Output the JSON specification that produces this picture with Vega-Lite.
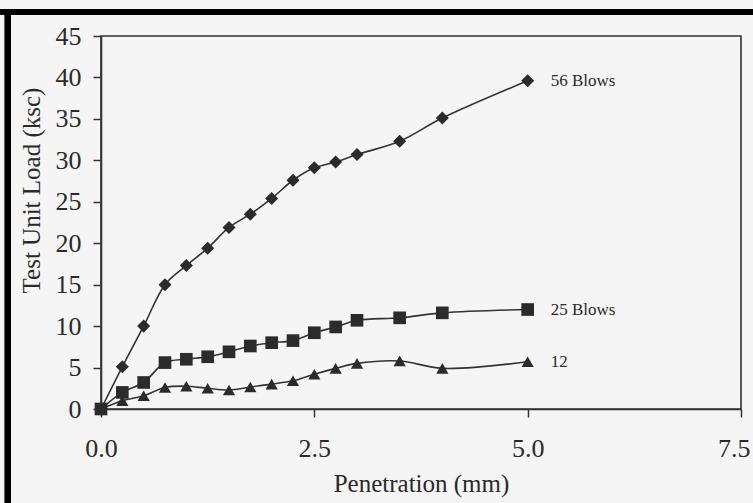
{
  "$schema": "https://vega.github.io/schema/vega-lite/v6.json",
  "width": 640,
  "height": 373,
  "autosize": {"type": "none"},
  "padding": {"left": 101, "top": 36, "right": 12, "bottom": 94},
  "background": "#f4f5f4",
  "config": {
    "font": "Liberation Serif",
    "view": {"stroke": "#333333", "strokeWidth": 1.6},
    "axis": {
      "grid": false,
      "domainColor": "#333333",
      "domainWidth": 1.6,
      "tickColor": "#333333",
      "tickWidth": 1.5,
      "tickSize": 8,
      "labelFont": "Liberation Serif",
      "labelFontSize": 26,
      "labelColor": "#2a2a2a",
      "titleFont": "Liberation Serif",
      "titleFontSize": 25,
      "titleFontWeight": "normal",
      "titleColor": "#2a2a2a"
    }
  },
  "data": {
    "values": [
      {"series": "56 Blows", "pen": 0, "load": 0},
      {"series": "56 Blows", "pen": 0.25, "load": 5.1},
      {"series": "56 Blows", "pen": 0.5, "load": 10.0},
      {"series": "56 Blows", "pen": 0.75, "load": 15.0},
      {"series": "56 Blows", "pen": 1.0, "load": 17.3},
      {"series": "56 Blows", "pen": 1.25, "load": 19.4},
      {"series": "56 Blows", "pen": 1.5, "load": 21.9},
      {"series": "56 Blows", "pen": 1.75, "load": 23.5},
      {"series": "56 Blows", "pen": 2.0, "load": 25.4},
      {"series": "56 Blows", "pen": 2.25, "load": 27.6},
      {"series": "56 Blows", "pen": 2.5, "load": 29.1},
      {"series": "56 Blows", "pen": 2.75, "load": 29.8},
      {"series": "56 Blows", "pen": 3.0, "load": 30.7},
      {"series": "56 Blows", "pen": 3.5, "load": 32.3},
      {"series": "56 Blows", "pen": 4.0, "load": 35.1},
      {"series": "56 Blows", "pen": 5.0, "load": 39.6},
      {"series": "25 Blows", "pen": 0, "load": 0},
      {"series": "25 Blows", "pen": 0.25, "load": 2.0},
      {"series": "25 Blows", "pen": 0.5, "load": 3.2},
      {"series": "25 Blows", "pen": 0.75, "load": 5.6},
      {"series": "25 Blows", "pen": 1.0, "load": 6.0},
      {"series": "25 Blows", "pen": 1.25, "load": 6.3},
      {"series": "25 Blows", "pen": 1.5, "load": 6.9},
      {"series": "25 Blows", "pen": 1.75, "load": 7.6},
      {"series": "25 Blows", "pen": 2.0, "load": 8.0},
      {"series": "25 Blows", "pen": 2.25, "load": 8.25},
      {"series": "25 Blows", "pen": 2.5, "load": 9.2},
      {"series": "25 Blows", "pen": 2.75, "load": 9.9},
      {"series": "25 Blows", "pen": 3.0, "load": 10.7},
      {"series": "25 Blows", "pen": 3.5, "load": 11.0},
      {"series": "25 Blows", "pen": 4.0, "load": 11.6},
      {"series": "25 Blows", "pen": 5.0, "load": 12.0},
      {"series": "12", "pen": 0, "load": 0},
      {"series": "12", "pen": 0.25, "load": 1.0},
      {"series": "12", "pen": 0.5, "load": 1.6},
      {"series": "12", "pen": 0.75, "load": 2.6},
      {"series": "12", "pen": 1.0, "load": 2.75},
      {"series": "12", "pen": 1.25, "load": 2.5},
      {"series": "12", "pen": 1.5, "load": 2.3},
      {"series": "12", "pen": 1.75, "load": 2.65},
      {"series": "12", "pen": 2.0, "load": 3.0},
      {"series": "12", "pen": 2.25, "load": 3.4},
      {"series": "12", "pen": 2.5, "load": 4.2},
      {"series": "12", "pen": 2.75, "load": 4.9},
      {"series": "12", "pen": 3.0, "load": 5.5},
      {"series": "12", "pen": 3.5, "load": 5.8},
      {"series": "12", "pen": 4.0, "load": 4.9},
      {"series": "12", "pen": 5.0, "load": 5.7}
    ]
  },
  "encoding": {
    "x": {
      "field": "pen",
      "type": "quantitative",
      "title": "Penetration (mm)",
      "scale": {"domain": [0, 7.5], "nice": false, "zero": false},
      "axis": {
        "values": [0, 2.5, 5, 7.5],
        "format": ".1f",
        "labelFlush": false,
        "labelOverlap": false,
        "labelBound": false,
        "labelAlign": {"condition": {"test": "datum.value == 7.5", "value": "right"}, "value": "center"},
        "labelOffset": {"condition": {"test": "datum.value == 7.5", "value": 9}, "value": 0},
        "labelPadding": 18,
        "titlePadding": 10
      }
    },
    "y": {
      "field": "load",
      "type": "quantitative",
      "title": "Test Unit Load (ksc)",
      "scale": {"domain": [0, 45], "nice": false, "zero": false},
      "axis": {"values": [0, 5, 10, 15, 20, 25, 30, 35, 40, 45], "labelFlush": false, "labelPadding": 12, "titlePadding": 11, "titleY": 154}
    }
  },
  "layer": [
    {
      "mark": {"type": "line", "interpolate": "catmull-rom", "color": "#333333", "strokeWidth": 1.6},
      "encoding": {"detail": {"field": "series"}}
    },
    {
      "mark": {"type": "point", "filled": true, "color": "#2b2b2b", "opacity": 1},
      "encoding": {
        "shape": {
          "field": "series",
          "scale": {"domain": ["56 Blows", "25 Blows", "12"], "range": ["diamond", "square", "triangle-up"]},
          "legend": null
        },
        "size": {
          "field": "series",
          "scale": {"domain": ["56 Blows", "25 Blows", "12"], "range": [170, 150, 160]},
          "legend": null
        }
      }
    },
    {
      "transform": [{"filter": "datum.pen == 5"}],
      "mark": {"type": "text", "align": "left", "baseline": "middle", "dx": 23, "fontSize": 17, "font": "Liberation Serif", "color": "#2a2a2a"},
      "encoding": {"text": {"field": "series"}}
    },
    {
      "mark": {"type": "rule", "color": "#000000", "strokeWidth": 6},
      "encoding": {
        "x": {"datum": -1.3},
        "x2": {"datum": 8},
        "y": {"datum": 47.9}
      }
    },
    {
      "mark": {"type": "rule", "color": "#000000", "strokeWidth": 6},
      "encoding": {
        "x": {"datum": -1.09},
        "y": {"datum": -12},
        "y2": {"datum": 48.25}
      }
    }
  ]
}
